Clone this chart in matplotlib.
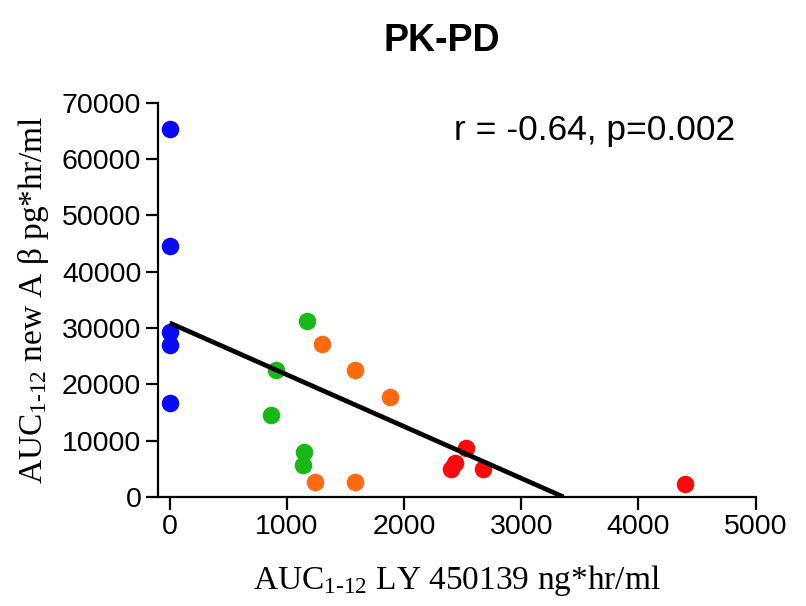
import matplotlib
matplotlib.use('Agg')
import matplotlib.pyplot as plt

# data
blue_x = [0, 0, 0, 0, 0]
blue_y = [65300, 44600, 29300, 27000, 16650]
green_x = [911, 1170, 868, 1147, 1136]
green_y = [22600, 31300, 14500, 7950, 5700]
orange_x = [1298, 1580, 1879, 1244, 1580]
orange_y = [27200, 22500, 17800, 2600, 2600]
red_x = [2525, 2434, 2400, 2676, 4400]
red_y = [8650, 6100, 5000, 5000, 2300]
fit_x = [0, 3360]
fit_y = [30900, 0]

x_ticks = [0, 1000, 2000, 3000, 4000, 5000]
y_ticks = [0, 10000, 20000, 30000, 40000, 50000, 60000, 70000]

plt.rcParams['font.family'] = 'Liberation Sans'
plt.rcParams['mathtext.fontset'] = 'custom'
plt.rcParams['mathtext.rm'] = 'Liberation Serif'
plt.rcParams['mathtext.it'] = 'Liberation Serif:italic'

fig = plt.figure(figsize=(8.06, 6.06), dpi=100)
ax = fig.add_axes([0.196, 0.180, 0.7415, 0.6505])

ms = 160
ax.scatter(blue_x, blue_y, s=ms, color='#0A0AF5', zorder=3, clip_on=False, linewidths=0)
ax.scatter(green_x, green_y, s=ms, color='#18B818', zorder=3, clip_on=False, linewidths=0)
ax.scatter(orange_x, orange_y, s=ms, color='#FF6A10', zorder=3, clip_on=False, linewidths=0)
ax.scatter(red_x, red_y, s=ms, color='#FA0A0A', zorder=3, clip_on=False, linewidths=0)
ax.plot(fit_x, fit_y, color='black', linewidth=3.4, zorder=4, solid_capstyle='butt')

ax.set_xlim(-100, 5000)
ax.set_ylim(0, 70000)
ax.set_xticks(x_ticks)
ax.set_yticks(y_ticks)
ax.spines['top'].set_visible(False)
ax.spines['right'].set_visible(False)
for s in ['left', 'bottom']:
    ax.spines[s].set_linewidth(1.6)
ax.tick_params(direction='out', length=9, width=1.6, labelsize=20.5, pad=3)

ax.set_xlabel(r'AUC$_{1\text{-}12}$ LY 450139 ng*hr/ml', family='Liberation Serif',
              fontsize=24, labelpad=17)
ax.set_ylabel(r'AUC$_{1\text{-}12}$ new A β pg*hr/ml', family='Liberation Serif',
              fontsize=24, labelpad=8)

fig.text(0.548, 0.933, 'PK-PD', fontsize=27, fontweight='bold', ha='center', va='center')
ax.text(0.965, 0.93, 'r = -0.64, p=0.002', transform=ax.transAxes, fontsize=25.5,
        ha='right', va='center')

fig.savefig('out.png', dpi=100)
